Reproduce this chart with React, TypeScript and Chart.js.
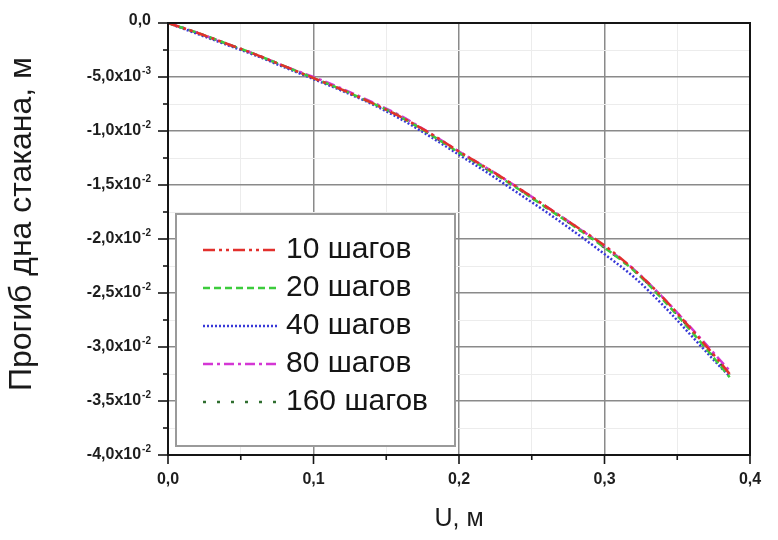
import React, { useEffect, useRef } from 'react';
import { Chart, registerables } from 'chart.js';

Chart.register(...registerables);

// Displacement U, m (shared by every run)
const U_VALUES = [
  0, 0.02, 0.04, 0.06, 0.08, 0.1, 0.12, 0.14, 0.16, 0.18, 0.2,
  0.22, 0.24, 0.26, 0.28, 0.3, 0.32, 0.34, 0.36, 0.38, 0.386,
];

// Bottom deflection, m, for each number of load steps
const STEPS_10 = [
  0, -0.0009, -0.0019, -0.0029, -0.004, -0.0051, -0.0062, -0.0074, -0.0087, -0.0102, -0.0119,
  -0.0135, -0.0152, -0.017, -0.0188, -0.0206, -0.0228, -0.0254, -0.0284, -0.0315, -0.0325,
];
const STEPS_20 = [
  0, -0.0009, -0.0019, -0.0029, -0.004, -0.0051, -0.0062, -0.0074, -0.0087, -0.0103, -0.012,
  -0.0136, -0.0153, -0.0171, -0.0189, -0.0208, -0.0229, -0.0256, -0.0286, -0.0318, -0.0328,
];
const STEPS_40 = [
  0, -0.001, -0.002, -0.003, -0.0041, -0.0052, -0.0063, -0.0075, -0.0089, -0.0105, -0.0122,
  -0.0139, -0.0157, -0.0175, -0.0194, -0.0214, -0.0235, -0.0261, -0.029, -0.0319, -0.0327,
];
const STEPS_80 = [
  0, -0.0009, -0.0019, -0.0029, -0.004, -0.005, -0.0061, -0.0073, -0.0086, -0.0102, -0.0119,
  -0.0135, -0.0152, -0.017, -0.0188, -0.0207, -0.0228, -0.0254, -0.0283, -0.0313, -0.0322,
];
const STEPS_160 = [
  0, -0.0009, -0.0019, -0.0029, -0.004, -0.0051, -0.0062, -0.0074, -0.0087, -0.0103, -0.012,
  -0.0136, -0.0153, -0.0171, -0.0189, -0.0208, -0.0229, -0.0255, -0.0285, -0.0316, -0.0326,
];

const SERIES_LABELS = ['10 шагов', '20 шагов', '40 шагов', '80 шагов', '160 шагов'];
const SERIES_VALUES = [STEPS_10, STEPS_20, STEPS_40, STEPS_80, STEPS_160];
const SERIES_COLORS = ['#e2302c', '#3ccc3c', '#3838d8', '#d436d4', '#2f6e2f'];
const SERIES_DASHES = [
  [12, 4, 3, 4, 3, 4],
  [7, 4],
  [2, 2],
  [10, 4, 3, 4],
  [3, 11],
];

const X_TITLE = 'U, м';
const Y_TITLE = 'Прогиб дна стакана, м';

const FONT_FAMILY = '"Liberation Sans", Arial, sans-serif';
const font = (size: number, bold = false) => `${bold ? 'bold ' : ''}${size}px ${FONT_FAMILY}`;

const isMultiple = (v: number, step: number) => Math.abs(v / step - Math.round(v / step)) < 1e-6;

function splitSci(v: number): [string, string | null] {
  if (Math.abs(v) < 1e-12) return ['0,0', null];
  const exp = Math.floor(Math.log10(Math.abs(v)) + 1e-9);
  const mant = v / Math.pow(10, exp);
  return [`${mant.toFixed(1).replace('.', ',')}x10`, `${exp}`];
}

const axesPlugin = {
  id: 'axesDecor',
  afterDatasetsDraw(chart: any) {
    const { ctx, chartArea: a, scales } = chart;
    const x = scales.x;
    const y = scales.y;
    ctx.save();

    // frame
    ctx.strokeStyle = '#151515';
    ctx.lineWidth = 2;
    ctx.strokeRect(a.left, a.top, a.right - a.left, a.bottom - a.top);

    // tick marks
    ctx.lineWidth = 1.6;
    x.ticks.forEach((t: any) => {
      const px = x.getPixelForValue(t.value);
      const major = isMultiple(t.value, 0.1);
      ctx.beginPath();
      ctx.moveTo(px, a.bottom);
      ctx.lineTo(px, a.bottom + (major ? 9 : 5));
      ctx.stroke();
    });
    y.ticks.forEach((t: any) => {
      const py = y.getPixelForValue(t.value);
      const major = isMultiple(t.value, 0.005);
      ctx.beginPath();
      ctx.moveTo(a.left, py);
      ctx.lineTo(a.left - (major ? 10 : 5), py);
      ctx.stroke();
    });

    // x tick labels
    ctx.fillStyle = '#1e1e1e';
    ctx.font = font(16, true);
    ctx.textAlign = 'center';
    ctx.textBaseline = 'middle';
    x.ticks.forEach((t: any) => {
      if (!isMultiple(t.value, 0.1)) return;
      ctx.fillText(t.value.toFixed(1).replace('.', ','), x.getPixelForValue(t.value), a.bottom + 25);
    });

    // y tick labels with superscript exponent
    const rightEdge = a.left - 17;
    y.ticks.forEach((t: any) => {
      if (!isMultiple(t.value, 0.005)) return;
      const py = y.getPixelForValue(t.value);
      const [mant, exp] = splitSci(t.value);
      ctx.textBaseline = 'middle';
      ctx.textAlign = 'right';
      if (exp === null) {
        ctx.font = font(16, true);
        ctx.fillText(mant, rightEdge, py - 2);
        return;
      }
      ctx.font = font(10, true);
      const ew = ctx.measureText(exp).width;
      ctx.fillText(exp, rightEdge, py - 6);
      ctx.font = font(16, true);
      ctx.fillText(mant, rightEdge - ew - 1, py);
    });

    // axis titles
    ctx.fillStyle = '#1a1a1a';
    ctx.font = font(25);
    ctx.textAlign = 'center';
    ctx.textBaseline = 'middle';
    ctx.fillText(X_TITLE, (a.left + a.right) / 2, 519);
    ctx.save();
    ctx.translate(22, 224);
    ctx.rotate(-Math.PI / 2);
    ctx.font = font(32);
    ctx.fillText(Y_TITLE, 0, 0);
    ctx.restore();

    // legend box
    const bx = 176, by = 214, bw = 279, bh = 232;
    ctx.fillStyle = '#ffffff';
    ctx.fillRect(bx, by, bw, bh);
    ctx.strokeStyle = '#9a9a9a';
    ctx.lineWidth = 2;
    ctx.strokeRect(bx, by, bw, bh);
    chart.data.datasets.forEach((ds: any, i: number) => {
      const ry = 250 + i * 38;
      ctx.save();
      ctx.strokeStyle = ds.borderColor;
      ctx.lineWidth = ds.borderWidth;
      ctx.setLineDash(ds.borderDash);
      ctx.lineCap = ds.borderCapStyle || 'butt';
      ctx.beginPath();
      ctx.moveTo(203, ry);
      ctx.lineTo(278, ry);
      ctx.stroke();
      ctx.restore();
      ctx.fillStyle = '#151515';
      ctx.font = font(30);
      ctx.textAlign = 'left';
      ctx.textBaseline = 'middle';
      ctx.fillText(ds.label, 286, ry);
    });

    ctx.restore();
  },
};

export default function App() {
  const canvasRef = useRef<HTMLCanvasElement | null>(null);

  useEffect(() => {
    const canvas = canvasRef.current;
    if (!canvas) return;
    const datasets = SERIES_LABELS.map((label, i) => ({
      label,
      data: U_VALUES.map((u, k) => ({ x: u, y: SERIES_VALUES[i][k] })),
      borderColor: SERIES_COLORS[i],
      backgroundColor: SERIES_COLORS[i],
      borderWidth: 2.5,
      borderDash: SERIES_DASHES[i],
      borderCapStyle: 'butt',
      pointRadius: 0,
      fill: false,
      cubicInterpolationMode: 'monotone',
    }));

    const chart = new Chart(canvas, {
      type: 'line',
      data: { datasets } as any,
      options: {
        responsive: false,
        animation: false,
        layout: { padding: { left: 0, top: 23, right: 28, bottom: 0 } },
        plugins: { legend: { display: false }, tooltip: { enabled: false } },
        scales: {
          x: {
            type: 'linear',
            min: 0,
            max: 0.4,
            ticks: { stepSize: 0.05, display: false },
            border: { display: false },
            grid: {
              drawTicks: false,
              color: (c: any) => (isMultiple(c.tick?.value ?? 0, 0.1) ? '#8a8a8a' : '#ececec'),
              lineWidth: (c: any) => (isMultiple(c.tick?.value ?? 0, 0.1) ? 1.5 : 1),
            },
            afterFit: (s: any) => {
              s.height = 85;
            },
          },
          y: {
            type: 'linear',
            min: -0.04,
            max: 0,
            ticks: { stepSize: 0.0025, display: false },
            border: { display: false },
            grid: {
              drawTicks: false,
              color: (c: any) => (isMultiple(c.tick?.value ?? 0, 0.005) ? '#8a8a8a' : '#ececec'),
              lineWidth: (c: any) => (isMultiple(c.tick?.value ?? 0, 0.005) ? 1.5 : 1),
            },
            afterFit: (s: any) => {
              s.width = 168;
            },
          },
        },
      } as any,
      plugins: [axesPlugin],
    });
    return () => chart.destroy();
  }, []);

  return (
    <div style={{ position: 'fixed', left: 0, top: 0, width: 778, height: 540, background: '#fff' }}>
      <canvas ref={canvasRef} width={778} height={540} style={{ display: 'block' }} />
    </div>
  );
}
